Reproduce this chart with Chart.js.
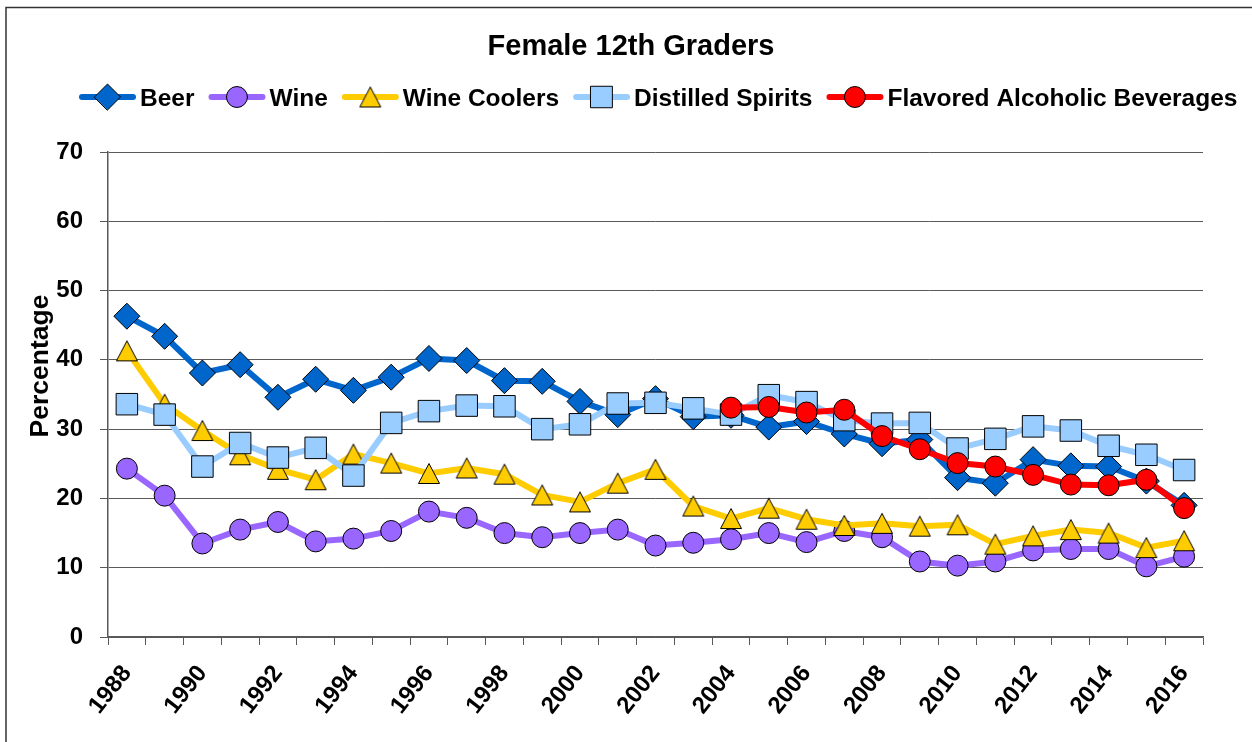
<!DOCTYPE html>
<html>
<head>
<meta charset="utf-8">
<script src="https://cdn.jsdelivr.net/npm/chart.js@4.4.1/dist/chart.umd.min.js"></script>
<style>
  html, body { margin: 0; padding: 0; background: #fff; }
  canvas { display: block; }
</style>
</head>
<body>
<canvas id="myChart" width="1252" height="742"></canvas>
<script>
const years = [1988, 1989, 1990, 1991, 1992, 1993, 1994, 1995, 1996, 1997, 1998, 1999, 2000, 2001,
  2002, 2003, 2004, 2005, 2006, 2007, 2008, 2009, 2010, 2011, 2012, 2013, 2014, 2015, 2016];

const beer = [46.3, 43.4, 38.1, 39.3, 34.6, 37.2, 35.6, 37.5, 40.2, 39.9, 37.0, 36.9, 34.0, 32.1,
  34.4, 31.8, 32.0, 30.3, 31.1, 29.3, 27.9, 28.5, 23.0, 22.2, 25.6, 24.7, 24.6, 22.5, 19.0];
const wine = [24.3, 20.4, 13.5, 15.5, 16.6, 13.8, 14.2, 15.3, 18.1, 17.2, 15.0, 14.4, 15.0, 15.5,
  13.2, 13.6, 14.1, 15.0, 13.7, 15.3, 14.4, 10.9, 10.3, 10.9, 12.5, 12.7, 12.7, 10.2, 11.6];
const wineCoolers = [41.3, 33.6, 29.8, 26.3, 24.2, 22.7, 26.4, 25.1, 23.6, 24.4, 23.5, 20.5, 19.5, 22.2,
  24.2, 18.9, 17.1, 18.6, 17.0, 16.1, 16.4, 16.0, 16.2, 13.4, 14.6, 15.5, 15.0, 12.9, 13.9];
const spirits = [33.6, 32.1, 24.6, 28.0, 25.9, 27.3, 23.3, 30.9, 32.6, 33.4, 33.3, 30.0, 30.7, 33.7,
  33.8, 33.0, 32.1, 34.9, 33.9, 31.3, 30.8, 30.9, 27.2, 28.6, 30.4, 29.8, 27.6, 26.3, 24.1];
const flavored = [null, null, null, null, null, null, null, null, null, null, null, null, null, null,
  null, null, 33.1, 33.2, 32.4, 32.8, 29.0, 27.1, 25.1, 24.6, 23.4, 22.0, 21.9, 22.7, 18.6];

const yTicks = [0, 10, 20, 30, 40, 50, 60, 70];

const FONT = "'Liberation Sans', Arial, sans-serif";

// excel style triangle (centered on its box)
function makeTriangle(fill) {
  const c = document.createElement("canvas");
  c.width = 24;
  c.height = 23;
  const ctx = c.getContext("2d");
  ctx.beginPath();
  ctx.moveTo(12, 1.5);
  ctx.lineTo(22.5, 21.5);
  ctx.lineTo(1.5, 21.5);
  ctx.closePath();
  ctx.fillStyle = fill;
  ctx.fill();
  ctx.lineWidth = 1;
  ctx.strokeStyle = "#000";
  ctx.stroke();
  return c;
}

const triangle = makeTriangle("#FFCC00");

function series(label, values, color, pointStyle, radius, order) {
  return {
    label: label,
    data: values,
    borderColor: color,
    backgroundColor: color,
    borderWidth: 6,
    pointStyle: pointStyle,
    pointRadius: radius,
    pointBorderColor: "#000",
    pointBorderWidth: 1,
    pointBackgroundColor: color,
    tension: 0,
    order: order,
  };
}

const datasets = [
  series("Beer", beer, "#0066CC", "rectRot", 13, 5),
  series("Wine", wine, "#9966FF", "circle", 10.5, 4),
  series("Wine Coolers", wineCoolers, "#FFCC00", triangle, 11, 3),
  series("Distilled Spirits", spirits, "#99CCFF", "rect", 15.2, 2),
  series("Flavored Alcoholic Beverages", flavored, "#FF0000", "circle", 10.5, 1),
];

// title, legend, y title and frame
const decorations = {
  id: "decorations",
  beforeDraw(chart) {
    const ctx = chart.ctx;
    ctx.save();
    ctx.fillStyle = "#fff";
    ctx.fillRect(0, 0, chart.width, chart.height);
    ctx.strokeStyle = "#333";
    ctx.lineWidth = 1.5;
    ctx.strokeRect(6, 7.5, 1400, 900);
    ctx.restore();
  },
  afterDraw(chart) {
    const ctx = chart.ctx;
    ctx.save();
    ctx.fillStyle = "#000";
    ctx.font = "bold 29px " + FONT;
    ctx.textAlign = "center";
    ctx.textBaseline = "alphabetic";
    ctx.fillText("Female 12th Graders", 631, 55);

    // legend
    ctx.font = "bold 24.5px " + FONT;
    ctx.textAlign = "left";
    let x = 80;
    const y = 97;
    chart.data.datasets.forEach((ds) => {
      ctx.strokeStyle = ds.borderColor;
      ctx.lineWidth = 6;
      ctx.lineCap = "round";
      ctx.beginPath();
      ctx.moveTo(x + 2, y);
      ctx.lineTo(x + 53, y);
      ctx.stroke();
      ctx.fillStyle = ds.pointBackgroundColor;
      ctx.strokeStyle = "#000";
      ctx.lineWidth = 1;
      Chart.helpers.drawPoint(ctx, {
        pointStyle: ds.pointStyle,
        radius: ds.pointRadius,
        borderWidth: 1,
        rotation: 0,
      }, x + 27.5, y);
      ctx.fillStyle = "#000";
      ctx.fillText(ds.label, x + 60, y + 8.5);
      x += 60 + ctx.measureText(ds.label).width + 15;
    });

    // y axis title
    ctx.translate(48, 366);
    ctx.rotate(-Math.PI / 2);
    ctx.textAlign = "center";
    ctx.font = "bold 26.5px " + FONT;
    ctx.fillText("Percentage", 0, 0);
    ctx.restore();
  },
};

const config = {
  type: "line",
  data: {
    labels: years.map(String),
    datasets: datasets,
  },
  options: {
    responsive: false,
    animation: false,
    layout: {
      padding: { top: 152, right: 49, bottom: 0, left: 0 },
    },
    plugins: {
      legend: { display: false },
      title: { display: false },
      tooltip: { enabled: false },
    },
    scales: {
      x: {
        offset: true,
        afterFit: (scale) => {
          scale.height = 105;
        },
        grid: {
          offset: true,
          drawOnChartArea: false,
          drawTicks: true,
          tickLength: 8,
          color: "#595959",
        },
        border: { color: "#595959", width: 1.5 },
        ticks: {
          autoSkip: false,
          minRotation: 52,
          maxRotation: 52,
          padding: 15,
          color: "#000",
          font: { family: FONT, size: 24, weight: "bold" },
          callback: function (value, index) {
            return index % 2 === 0 ? this.getLabelForValue(value) : "";
          },
        },
      },
      y: {
        min: 0,
        max: 70,
        afterFit: (scale) => {
          scale.width = 108;
        },
        afterBuildTicks: (scale) => {
          scale.ticks = yTicks.map((v) => ({ value: v }));
        },
        grid: {
          color: "#595959",
          lineWidth: 1,
          tickLength: 8,
        },
        border: { color: "#595959", width: 1.5 },
        ticks: {
          padding: 17,
          color: "#000",
          font: { family: FONT, size: 24, weight: "bold" },
        },
      },
    },
  },
  plugins: [decorations],
};

const myChart = new Chart(document.getElementById("myChart"), config);
</script>
</body>
</html>
